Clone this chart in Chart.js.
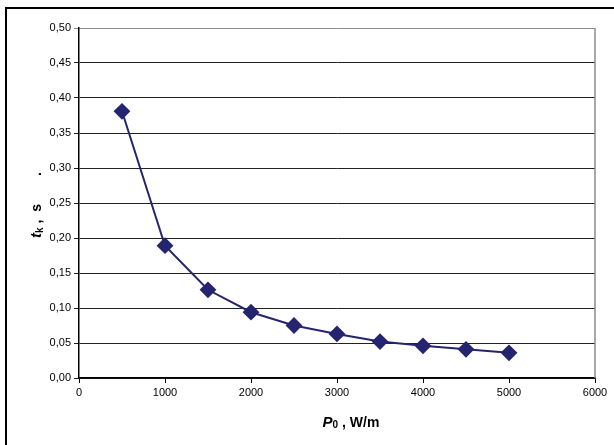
<!DOCTYPE html>
<html>
<head>
<meta charset="utf-8">
<script src="https://cdn.jsdelivr.net/npm/chart.js@4.4.1/dist/chart.umd.min.js"></script>
<style>
  html, body { margin: 0; padding: 0; background: #fff; }
  #wrap { position: relative; width: 614px; height: 445px; overflow: hidden; }
  #frame { position: absolute; left: 5px; top: 7px; width: 700px; height: 500px;
           border-left: 2px solid #000; border-top: 2px solid #000; }
  canvas { position: absolute; left: 0; top: 0; }
</style>
</head>
<body>
<div id="wrap">
  <div id="frame"></div>
  <canvas id="tkChart" width="614" height="445"></canvas>
</div>
<script>
// Data
const powerValues = [500, 1000, 1500, 2000, 2500, 3000, 3500, 4000, 4500, 5000];
const timeValues = [0.381, 0.189, 0.126, 0.094, 0.075, 0.063, 0.052, 0.046, 0.041, 0.036];
const xTicks = [0, 1000, 2000, 3000, 4000, 5000, 6000];
const yTicks = [0, 0.05, 0.1, 0.15, 0.2, 0.25, 0.3, 0.35, 0.4, 0.45, 0.5];

const FONT = '"Liberation Sans", Arial, sans-serif';
const lineColor = '#25256f';

// draws a text made of pieces with different fonts, centred on (x, y)
function drawPieces(ctx, pieces, x, y, angle) {
  ctx.save();
  ctx.translate(x, y);
  ctx.rotate(angle);
  ctx.textBaseline = 'middle';
  ctx.fillStyle = '#000';
  let total = 0;
  pieces.forEach(p => { ctx.font = p.font; total += ctx.measureText(p.text).width + (p.gap || 0); });
  let cx = -total / 2;
  pieces.forEach(p => {
    cx += p.gap || 0;
    ctx.font = p.font;
    ctx.fillText(p.text, cx, p.dy || 0);
    cx += ctx.measureText(p.text).width;
  });
  ctx.restore();
}

const axisTitles = {
  id: 'axisTitles',
  afterDraw(chart) {
    const { ctx, chartArea } = chart;
    // right border of the plot area
    ctx.save();
    ctx.strokeStyle = '#8c8c8c';
    ctx.lineWidth = 1.5;
    ctx.beginPath();
    ctx.moveTo(chartArea.right, chartArea.top);
    ctx.lineTo(chartArea.right, chartArea.bottom);
    ctx.stroke();
    ctx.restore();

    const midY = (chartArea.top + chartArea.bottom) / 2;
    drawPieces(ctx, [
      { text: 't', font: 'italic bold 15px ' + FONT },
      { text: 'k', font: 'bold 10px ' + FONT, dy: 3 },
      { text: ' ,  s', font: 'bold 14px ' + FONT },
      { text: '.', font: 'bold 14px ' + FONT, gap: 28 }
    ], 37, midY + 2, -Math.PI / 2);

    const midX = (chartArea.left + chartArea.right) / 2;
    drawPieces(ctx, [
      { text: 'P', font: 'italic bold 15px ' + FONT },
      { text: '0', font: 'bold 10px ' + FONT, dy: 2 },
      { text: ' , W/m', font: 'bold 14px ' + FONT }
    ], midX + 14, 423, 0);
  }
};

const ctx = document.getElementById('tkChart').getContext('2d');
const tkChart = new Chart(ctx, {
  type: 'line',
  data: {
    datasets: [{
      data: powerValues.map((p, i) => ({ x: p, y: timeValues[i] })),
      borderColor: lineColor,
      backgroundColor: lineColor,
      borderWidth: 2,
      pointStyle: 'rectRot',
      pointRadius: 7,
      pointHoverRadius: 7,
      tension: 0
    }]
  },
  options: {
    responsive: false,
    animation: false,
    layout: { padding: { left: 0, top: 28, right: 19, bottom: 0 } },
    plugins: { legend: { display: false }, tooltip: { enabled: false } },
    scales: {
      x: {
        type: 'linear',
        min: 0,
        max: 6000,
        afterBuildTicks: axis => { axis.ticks = xTicks.map(v => ({ value: v })); },
        afterFit: axis => { axis.height = 67; },
        grid: { drawOnChartArea: false, tickLength: 5, color: '#000', lineWidth: 1 },
        border: { color: '#000', width: 1.5 },
        ticks: { color: '#000', font: { family: FONT, size: 11 }, padding: 3, maxRotation: 0,
                 callback: v => String(v) }
      },
      y: {
        min: 0,
        max: 0.5,
        afterBuildTicks: axis => { axis.ticks = yTicks.map(v => ({ value: v })); },
        afterFit: axis => { axis.width = 79; },
        grid: { tickLength: 5, color: ctx => ctx.tick && ctx.tick.value >= 0.499 ? '#8c8c8c' : '#222', lineWidth: 1 },
        border: { color: '#000', width: 1.5 },
        ticks: { color: '#000', font: { family: FONT, size: 11 }, padding: 3,
                 callback: v => v.toFixed(2).replace('.', ',') }
      }
    }
  },
  plugins: [axisTitles]
});
</script>
</body>
</html>
